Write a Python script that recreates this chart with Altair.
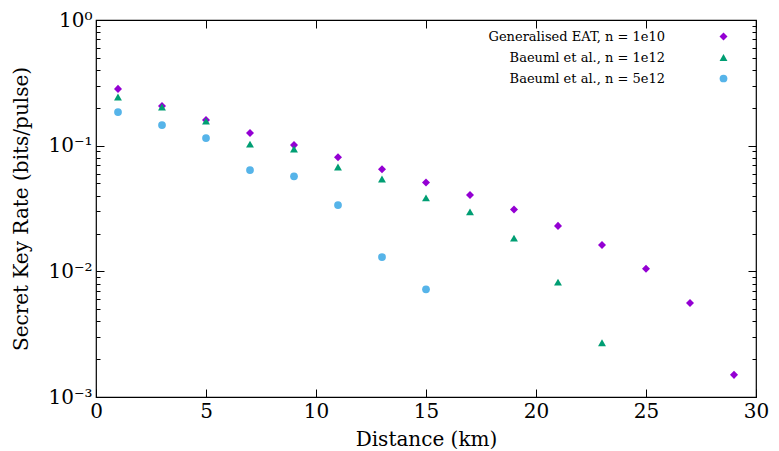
import altair as alt
import pandas as pd

series_names = ["Generalised EAT, n = 1e10", "Baeuml et al., n = 1e12", "Baeuml et al., n = 5e12"]
colors = ["#9400D3", "#009E73", "#56B4E9"]
shapes = ["diamond", "triangle-up", "circle"]

dist_eat = [1, 3, 5, 7, 9, 11, 13, 15, 17, 19, 21, 23, 25, 27, 29]
rate_eat = [0.283, 0.207, 0.160, 0.126, 0.101, 0.081, 0.065, 0.051, 0.0405, 0.031, 0.023, 0.0162, 0.0105, 0.0056, 0.0015]

dist_b12 = [1, 3, 5, 7, 9, 11, 13, 15, 17, 19, 21, 23]
rate_b12 = [0.244, 0.203, 0.157, 0.103, 0.094, 0.0677, 0.0543, 0.0384, 0.0297, 0.0184, 0.0082, 0.0027]

dist_b5 = [1, 3, 5, 7, 9, 11, 13, 15]
rate_b5 = [0.185, 0.146, 0.115, 0.064, 0.057, 0.0337, 0.013, 0.0072]

x_ticks = [0, 5, 10, 15, 20, 25, 30]
y_major = [0.001, 0.01, 0.1, 1]
y_minor = [k * 10.0 ** e for e in (-3, -2, -1) for k in range(2, 10)]

rows = []
for name, ds, rs in zip(series_names, [dist_eat, dist_b12, dist_b5], [rate_eat, rate_b12, rate_b5]):
    for d, r in zip(ds, rs):
        rows.append({"series": name, "distance": d, "rate": r})
df = pd.DataFrame(rows)

FONT = "DejaVu Serif"
xscale = alt.Scale(domain=[0, 30], nice=False, zero=False)
yscale = alt.Scale(type="log", domain=[0.001, 1], nice=False)

label_expr = ("datum.value >= 0.5 ? '10⁰' : datum.value >= 0.05 ? '10⁻¹' : "
              "datum.value >= 0.005 ? '10⁻²' : '10⁻³'")

points = alt.Chart(df).mark_point(filled=True, opacity=1).encode(
    x=alt.X("distance:Q", scale=xscale, axis=alt.Axis(
        orient="bottom", values=x_ticks, offset=-8, tickSize=8, domain=False, grid=False,
        labelFont=FONT, labelFontSize=20, labelPadding=4, labelFlush=False, labelOverlap=False,
        title="Distance (km)", titleFont=FONT, titleFontSize=20, titleFontWeight="normal",
        titlePadding=8, tickColor="black", labelColor="black", titleColor="black", format="d")),
    y=alt.Y("rate:Q", scale=yscale, axis=alt.Axis(
        orient="left", values=y_major, offset=-8, tickSize=8, domain=False, grid=False,
        labelFont=FONT, labelFontSize=20, labelPadding=4, labelExpr=label_expr, labelOverlap=False,
        title="Secret Key Rate (bits/pulse)", titleFont=FONT, titleFontSize=20,
        titleFontWeight="normal", titlePadding=16, tickColor="black", labelColor="black",
        titleColor="black")),
    color=alt.Color("series:N", scale=alt.Scale(domain=series_names, range=colors),
                    legend=alt.Legend(title=None, orient="none", legendX=621, legendY=10,
                                      labelFont=FONT, labelFontSize=13, symbolSize=75,
                                      labelAlign="right", labelOffset={"expr": "-65"},
                                      labelLimit=400, rowPadding=7, labelColor="black")),
    shape=alt.Shape("series:N", scale=alt.Scale(domain=series_names, range=shapes), legend=None),
    size=alt.Size("series:N", scale=alt.Scale(domain=series_names, range=[65, 60, 110]), legend=None),
)

mirror = alt.Chart(df).mark_point(opacity=0).encode(
    x=alt.X("distance:Q", scale=xscale, axis=alt.Axis(
        orient="top", values=x_ticks, offset=-8, tickSize=8, domain=False, grid=False,
        labels=False, title=None, tickColor="black")),
    y=alt.Y("rate:Q", scale=yscale, axis=alt.Axis(
        orient="right", values=y_major, offset=-8, tickSize=8, domain=False, grid=False,
        labels=False, title=None, tickColor="black")),
)

minor_left = alt.Chart(df).mark_point(opacity=0).encode(
    x=alt.X("distance:Q", scale=xscale, axis=None),
    y=alt.Y("rate:Q", scale=yscale, axis=alt.Axis(
        orient="left", values=y_minor, offset=-4, tickSize=4, domain=False, grid=False,
        labels=False, title=None, tickColor="black")),
)

minor_right = alt.Chart(df).mark_point(opacity=0).encode(
    x=alt.X("distance:Q", scale=xscale, axis=None),
    y=alt.Y("rate:Q", scale=yscale, axis=alt.Axis(
        orient="right", values=y_minor, offset=-4, tickSize=4, domain=False, grid=False,
        labels=False, title=None, tickColor="black")),
)

chart = alt.layer(points, mirror, minor_left, minor_right).resolve_axis(
    x="independent", y="independent"
).properties(
    width=660, height=377,
    autosize=alt.AutoSizeParams(type="none"),
    padding={"left": 88, "top": 12, "right": 14, "bottom": 52},
    background="white",
).configure(font=FONT).configure_axis(
    labelFont=FONT, titleFont=FONT
).configure_legend(labelFont=FONT).configure_view(stroke="black", strokeWidth=1.2)

chart.save("out.html", embed_options={"renderer": "svg", "actions": False})
